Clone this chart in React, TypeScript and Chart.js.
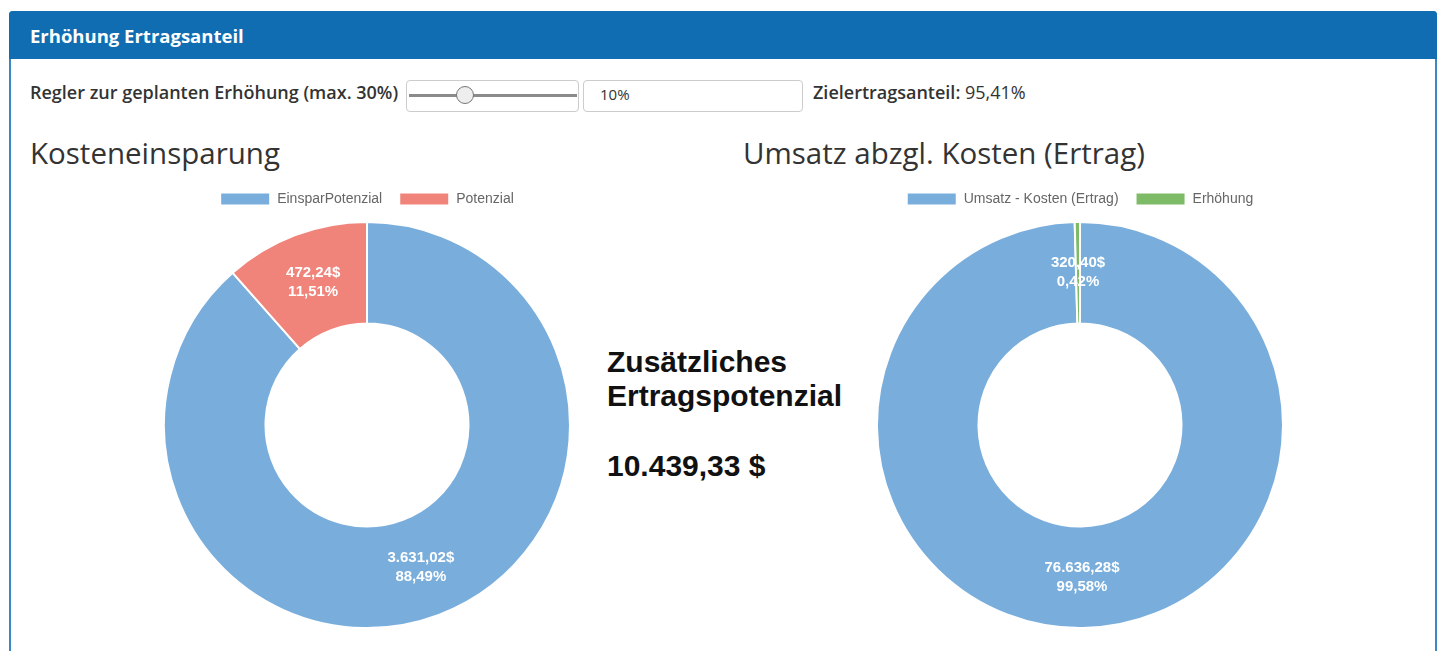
import React, { useEffect, useRef } from "react";
import { Chart, registerables } from "chart.js";

Chart.register(...registerables);

// ---- data ----
const costLabels = ["EinsparPotenzial", "Potenzial"];
const costValues = [3631.02, 472.24];
const costColors = ["#79aedc", "#f0847b"];

const revenueLabels = ["Umsatz - Kosten (Ertrag)", "Erhöhung"];
const revenueValues = [76636.28, 320.4];
const revenueColors = ["#79aedc", "#7dbb66"];

const sliderPercent = 10;
const sliderMax = 30;
const targetShare = "95,41%";
const additionalPotential = "10.439,33 $";

function fmt(n: number): string {
  const [i, d] = n.toFixed(2).split(".");
  return i.replace(/\B(?=(\d{3})+(?!\d))/g, ".") + "," + d;
}

const sliceLabels = {
  id: "sliceLabels",
  afterDatasetsDraw(chart: any) {
    const ctx = chart.ctx;
    const vals = chart.data.datasets[0].data as number[];
    const total = vals.reduce((a, b) => a + b, 0);
    const meta = chart.getDatasetMeta(0);
    ctx.save();
    ctx.fillStyle = "#ffffff";
    ctx.font = "bold 15px 'Liberation Sans', Arial, sans-serif";
    ctx.textAlign = "center";
    ctx.textBaseline = "middle";
    meta.data.forEach((arc: any, i: number) => {
      const p = arc.tooltipPosition();
      ctx.fillText(fmt(vals[i]) + "$", p.x, p.y - 9.5);
      ctx.fillText(fmt((vals[i] / total) * 100) + "%", p.x, p.y + 9.5);
    });
    ctx.restore();
  },
};

function Donut(props: { labels: string[]; values: number[]; colors: string[]; style: React.CSSProperties; w: number; h: number }) {
  const ref = useRef<HTMLCanvasElement | null>(null);
  useEffect(() => {
    if (!ref.current) return;
    const chart = new Chart(ref.current, {
      type: "doughnut",
      data: {
        labels: props.labels,
        datasets: [
          {
            data: props.values,
            backgroundColor: props.colors,
            borderColor: "#ffffff",
            borderWidth: 2,
          },
        ],
      },
      options: {
        animation: false,
        responsive: false,
        devicePixelRatio: 1,
        cutout: "50%",
        plugins: {
          legend: {
            position: "top",
            labels: {
              boxWidth: 50,
              boxHeight: 13,
              padding: 17,
              color: "#666666",
              font: { size: 14, family: "'Liberation Sans', Arial, sans-serif" },
            },
          },
          tooltip: { enabled: false },
        },
      },
      plugins: [sliceLabels],
    } as any);
    return () => chart.destroy();
  }, []);
  return <canvas ref={ref} width={props.w} height={props.h} style={{ position: "absolute", ...props.style }} />;
}

export default function App() {
  const ui = "'Open Sans', 'Noto Sans', sans-serif";
  const thumbX = 409 + ((577 - 409) * sliderPercent) / sliderMax;
  return (
    <div style={{ position: "absolute", left: 0, top: 0, width: 1445, height: 651, background: "#ffffff", overflow: "hidden" }}>
      {/* panel */}
      <div
        style={{
          position: "absolute",
          left: 9,
          top: 11,
          width: 1428,
          height: 660,
          boxSizing: "border-box",
          border: "2px solid #3a86c6",
          borderRadius: "4px 4px 0 0",
        }}
      />
      <div
        style={{
          position: "absolute",
          left: 9,
          top: 11,
          width: 1428,
          height: 48,
          background: "#106db2",
          borderRadius: "4px 4px 0 0",
        }}
      />
      <div style={{ position: "absolute", left: 30, top: 26.5, fontFamily: ui, fontWeight: 700, fontSize: 18.5, lineHeight: "18.5px", color: "#ffffff" }}>
        Erhöhung Ertragsanteil
      </div>

      {/* slider row */}
      <div style={{ position: "absolute", left: 30, top: 83, fontFamily: ui, fontWeight: 600, fontSize: 18, lineHeight: "18px", color: "#333333" }}>
        Regler zur geplanten Erhöhung (max. 30%)
      </div>
      <div style={{ position: "absolute", left: 406, top: 80, width: 173, height: 32, boxSizing: "border-box", border: "1px solid #cccccc", borderRadius: 4 }} />
      <div style={{ position: "absolute", left: 409, top: 94, width: 168, height: 3, background: "#8a8a8a" }} />
      <div
        style={{
          position: "absolute",
          left: thumbX - 9,
          top: 86,
          width: 18,
          height: 18,
          boxSizing: "border-box",
          borderRadius: "50%",
          background: "#eeeeee",
          border: "1px solid #777777",
        }}
      />
      <div style={{ position: "absolute", left: 583, top: 80, width: 220, height: 32, boxSizing: "border-box", border: "1px solid #cccccc", borderRadius: 4 }} />
      <div style={{ position: "absolute", left: 600, top: 87, fontFamily: ui, fontSize: 15, lineHeight: "15px", color: "#333333" }}>
        {sliderPercent}%
      </div>
      <div style={{ position: "absolute", left: 813, top: 83, fontFamily: ui, fontSize: 18, lineHeight: "18px", color: "#333333" }}>
        <span style={{ fontWeight: 600 }}>Zielertragsanteil:</span> {targetShare}
      </div>

      {/* titles */}
      <div style={{ position: "absolute", left: 30, top: 138, fontFamily: ui, fontSize: 29.5, lineHeight: "29.5px", color: "#333333" }}>
        Kosteneinsparung
      </div>
      <div style={{ position: "absolute", left: 743, top: 138, fontFamily: ui, fontSize: 29.5, lineHeight: "29.5px", color: "#333333" }}>
        Umsatz abzgl. Kosten (Ertrag)
      </div>

      {/* charts */}
      <Donut labels={costLabels} values={costValues} colors={costColors} w={408} h={459} style={{ left: 163, top: 175 }} />
      <Donut labels={revenueLabels} values={revenueValues} colors={revenueColors} w={408} h={459} style={{ left: 876, top: 175 }} />

      {/* center text */}
      <div
        style={{
          position: "absolute",
          left: 607,
          top: 345,
          fontFamily: "'Liberation Sans', Arial, sans-serif",
          fontWeight: 700,
          fontSize: 30,
          lineHeight: "34px",
          color: "#111111",
        }}
      >
        Zusätzliches
        <br />
        Ertragspotenzial
      </div>
      <div
        style={{
          position: "absolute",
          left: 607,
          top: 449,
          fontFamily: "'Liberation Sans', Arial, sans-serif",
          fontWeight: 700,
          fontSize: 30,
          lineHeight: "34px",
          color: "#111111",
        }}
      >
        {additionalPotential}
      </div>
    </div>
  );
}
